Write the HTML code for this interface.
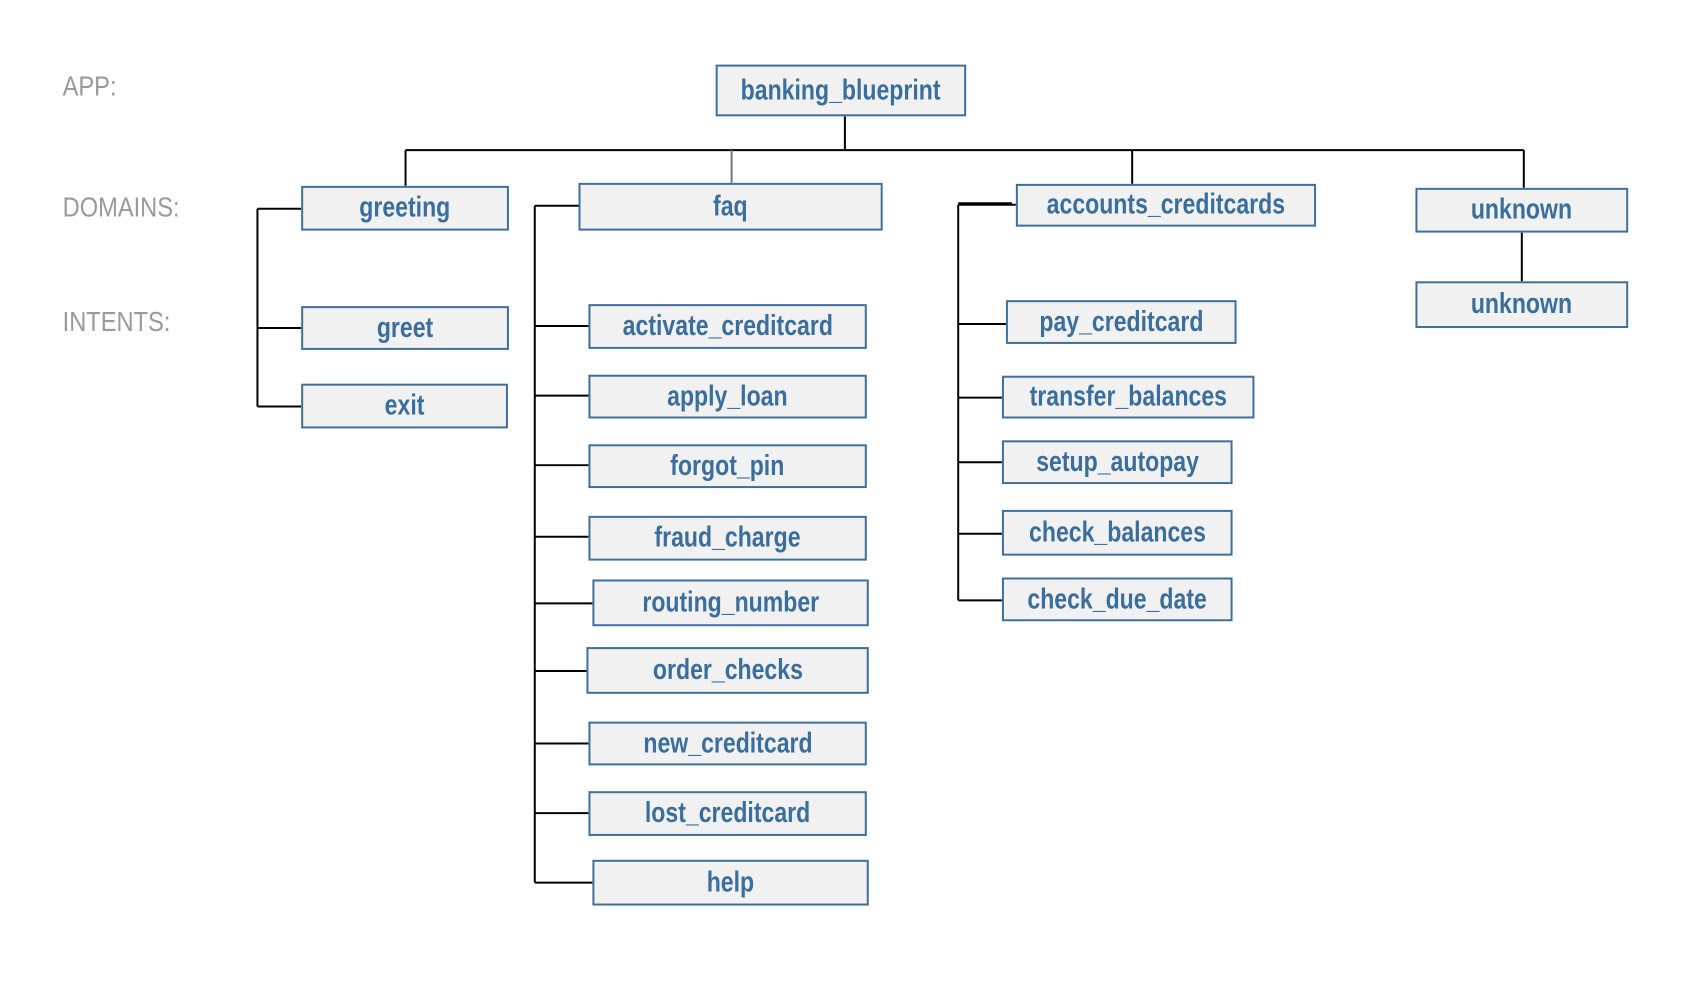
<!DOCTYPE html>
<html><head><meta charset="utf-8"><style>
body{margin:0;width:1688px;height:980px;background:#fff;position:relative;overflow:hidden;font-family:"Liberation Sans",sans-serif}
#w{position:absolute;left:0;top:0;width:1700px;height:990px;transform:scale(0.994);transform-origin:0 0}
.b{position:absolute;box-sizing:border-box;background:#f1f1f1;border:2px solid #3f6f9a;color:#3a6e9c;font-weight:bold;font-size:29px;display:flex;align-items:center;justify-content:center;white-space:nowrap}
.b span{display:inline-block;transform:scaleX(0.8)}
.l{position:absolute;color:#9a9a9a;font-size:28px;transform:scaleX(0.85);transform-origin:0 0}
svg{position:absolute;left:0;top:0}
</style></head><body><div id="w">
<svg width="1700" height="990">
<g stroke="#000" stroke-width="2" fill="none">
<path d="M850 117V151M408 151H1533M408 151V187M1139 151V185M1533 151V189M1531 234V283"/>
<path d="M736 151V184" stroke="#777"/>
<path d="M259 210V409M259 210H303M259 330H303M259 409H303"/>
<path d="M538 207V888M538 207H582M538 328H592M538 398H592M538 468H592M538 540H592M538 607H596M538 675H590M538 748H592M538 818H592M538 888H596"/>
<path d="M964 206V604M964 206H1022M964 326H1012M964 400H1008M964 465H1008M964 537H1008M964 604H1008"/>
<path d="M964 205H1018" stroke-width="3"/>
</g></svg>
<div class="l" style="left:63px;top:71px">APP:</div>
<div class="l" style="left:63px;top:193px">DOMAINS:</div>
<div class="l" style="left:63px;top:308px">INTENTS:</div>
<div class="b" style="left:720px;top:65px;width:252px;height:52px"><span>banking_blueprint</span></div>
<div class="b" style="left:303px;top:187px;width:209px;height:45px"><span>greeting</span></div>
<div class="b" style="left:582px;top:184px;width:306px;height:48px"><span>faq</span></div>
<div class="b" style="left:1022px;top:185px;width:302px;height:43px"><span>accounts_creditcards</span></div>
<div class="b" style="left:1424px;top:189px;width:214px;height:45px"><span>unknown</span></div>
<div class="b" style="left:1424px;top:283px;width:214px;height:47px"><span>unknown</span></div>
<div class="b" style="left:303px;top:308px;width:209px;height:44px"><span>greet</span></div>
<div class="b" style="left:303px;top:386px;width:208px;height:45px"><span>exit</span></div>
<div class="b" style="left:592px;top:306px;width:280px;height:45px"><span>activate_creditcard</span></div>
<div class="b" style="left:592px;top:377px;width:280px;height:44px"><span>apply_loan</span></div>
<div class="b" style="left:592px;top:447px;width:280px;height:44px"><span>forgot_pin</span></div>
<div class="b" style="left:592px;top:519px;width:280px;height:45px"><span>fraud_charge</span></div>
<div class="b" style="left:596px;top:583px;width:278px;height:47px"><span>routing_number</span></div>
<div class="b" style="left:590px;top:651px;width:284px;height:47px"><span>order_checks</span></div>
<div class="b" style="left:592px;top:726px;width:280px;height:44px"><span>new_creditcard</span></div>
<div class="b" style="left:592px;top:796px;width:280px;height:45px"><span>lost_creditcard</span></div>
<div class="b" style="left:596px;top:865px;width:278px;height:46px"><span>help</span></div>
<div class="b" style="left:1012px;top:302px;width:232px;height:44px"><span>pay_creditcard</span></div>
<div class="b" style="left:1008px;top:378px;width:254px;height:43px"><span>transfer_balances</span></div>
<div class="b" style="left:1008px;top:443px;width:232px;height:44px"><span>setup_autopay</span></div>
<div class="b" style="left:1008px;top:513px;width:232px;height:46px"><span>check_balances</span></div>
<div class="b" style="left:1008px;top:581px;width:232px;height:44px"><span>check_due_date</span></div>
</div></body></html>
